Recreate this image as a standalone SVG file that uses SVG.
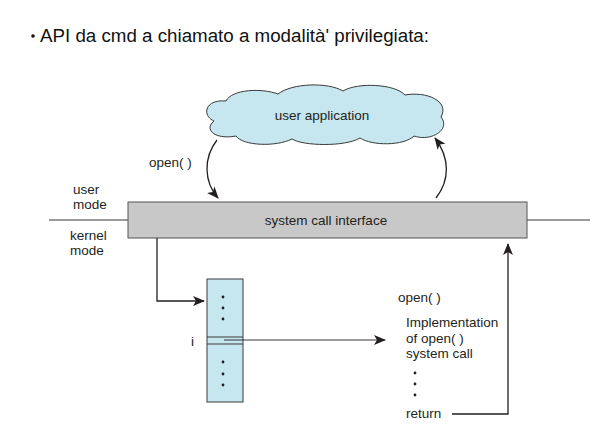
<svg xmlns="http://www.w3.org/2000/svg" width="594" height="433" viewBox="0 0 594 433">
<style>
.t{font-family:"Liberation Sans",Arial,sans-serif;font-size:13.5px;fill:#231f20}
.ln{fill:none;stroke:#231f20;stroke-width:1.3}
.thin{fill:none;stroke:#231f20;stroke-width:0.9}
.blue{fill:#c6e6f0;stroke:#3a3a3a;stroke-width:1}
.dot{fill:#231f20}
</style>
<defs>
<marker id="ah" viewBox="0 0 12 10" refX="11" refY="5" markerWidth="12" markerHeight="10" markerUnits="userSpaceOnUse" orient="auto">
<path d="M0,0 L12,5 L0,10 L3,5 Z" fill="#231f20"/>
</marker>
</defs>
<rect width="594" height="433" fill="#fff"/>
<g id="title">
<circle cx="33" cy="36" r="1.8" fill="#111"/>
<text x="40" y="42" font-family="'Liberation Sans',Arial,sans-serif" font-size="17.5" fill="#111" textLength="389" lengthAdjust="spacingAndGlyphs">API da cmd a chiamato a modalità' privilegiata:</text>
</g>
<g id="mode-line">
<line x1="49" y1="220" x2="128" y2="220" class="thin"/>
<line x1="527" y1="220" x2="590" y2="220" class="thin"/>
<text x="73" y="194" class="t">user</text>
<text x="73" y="209" class="t">mode</text>
<text x="70" y="240" class="t">kernel</text>
<text x="70" y="255" class="t">mode</text>
</g>
<g id="user-application">
<path class="blue" d="M214,121 C202,116 204,99 226,101 C232,89 262,88 278,94 C292,83 328,82 343,91 C358,82 395,84 405,95 C426,91 450,101 441,117 C451,129 432,142 414,136 C404,146 372,146 360,138 C345,147 303,146 292,139 C276,147 243,146 236,136 C216,140 203,130 214,121 Z"/>
<text x="322" y="120" class="t" text-anchor="middle">user application</text>
</g>
<g id="system-call-interface">
<rect x="128" y="202" width="399" height="36" fill="#c8c8c8" stroke="#555" stroke-width="1"/>
<text x="326" y="225" class="t" text-anchor="middle">system call interface</text>
</g>
<g id="table">
<rect x="207" y="279" width="36" height="123" class="blue"/>
<line x1="207" y1="337" x2="243" y2="337" stroke="#3a3a3a" stroke-width="1"/>
<line x1="207" y1="344" x2="243" y2="344" stroke="#3a3a3a" stroke-width="1"/>
<circle cx="223" cy="297" r="1.4" class="dot"/>
<circle cx="223" cy="308" r="1.4" class="dot"/>
<circle cx="223" cy="319" r="1.4" class="dot"/>
<circle cx="223" cy="362" r="1.4" class="dot"/>
<circle cx="223" cy="374" r="1.4" class="dot"/>
<circle cx="223" cy="385" r="1.4" class="dot"/>
<text x="191" y="346" class="t">i</text>
</g>
<g id="open-implementation">
<text x="398" y="302" class="t">open( )</text>
<text x="406" y="327" class="t">Implementation</text>
<text x="406" y="343" class="t">of open( )</text>
<text x="406" y="358" class="t">system call</text>
<circle cx="415" cy="373" r="1.4" class="dot"/>
<circle cx="415" cy="384" r="1.4" class="dot"/>
<circle cx="415" cy="395" r="1.4" class="dot"/>
<text x="406" y="418" class="t">return</text>
</g>
<g id="connectors">
<text x="149" y="167" class="t">open( )</text>
<path class="ln" d="M217,140 C203,158 204,182 218,198" marker-end="url(#ah)"/>
<path class="ln" d="M436,198 C450,180 450,158 435,138" marker-end="url(#ah)"/>
<path class="ln" d="M157,238 L157,301 L204,301" marker-end="url(#ah)"/>
<path class="thin" d="M224,340 L385,340" marker-end="url(#ah)"/>
<path class="ln" d="M452,414 L508,414 L508,244" marker-end="url(#ah)"/>
</g>
</svg>
